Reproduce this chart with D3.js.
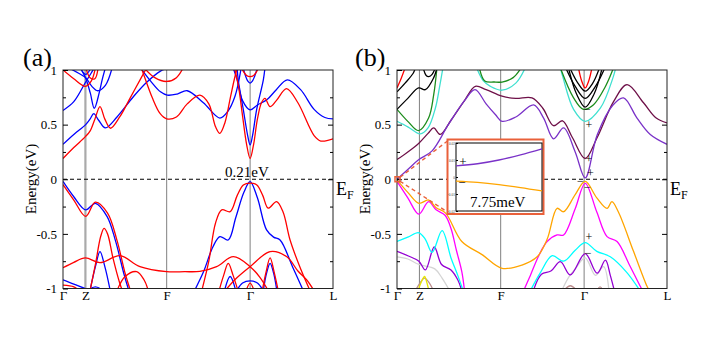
<!DOCTYPE html>
<html><head><meta charset="utf-8">
<script src="https://cdn.jsdelivr.net/npm/d3@7"></script>
<style>body{margin:0;background:#fff}svg{display:block}</style>
</head><body><svg id="c" width="709" height="355"></svg>
<script>
// ---------- axis data ----------
const kLabels = ["Γ","Z","F","Γ","L"];
const kTicks = [0, 0.083, 0.384, 0.693, 1];
const eTicks = [-1, -0.5, 0, 0.5, 1];
const eTickLabels = ["-1", "-0.5", "0", "0.5", "1"];
const eMinor = [-0.75, -0.25, 0.25, 0.75];

// ---------- panel (a): spin-resolved bands [k, E] ----------
const aRed = [
  [[0,0.19],[0.04,0.29],[0.083,0.39],[0.10,0.44],[0.118,0.55],[0.137,0.665],[0.155,0.55],[0.176,0.467],[0.21,0.57],[0.25,0.75],[0.29,0.93],[0.31,1.02]],
  [[0.29,1.02],[0.30,0.95],[0.33,0.75],[0.36,0.60],[0.384,0.553],[0.42,0.57],[0.46,0.69],[0.507,0.77],[0.54,0.69],[0.565,0.48],[0.581,0.42],[0.60,0.52],[0.62,0.75],[0.635,0.92],[0.645,1.02]],
  [[0.30,1.02],[0.34,0.93],[0.384,0.895],[0.42,0.93],[0.445,1.02]],
  [[0.635,1.02],[0.65,0.85],[0.665,0.58],[0.68,0.32],[0.693,0.19],[0.706,0.32],[0.72,0.55],[0.735,0.70],[0.748,0.74],[0.767,0.665],[0.79,0.72],[0.828,0.83],[0.87,0.70],[0.93,0.40],[0.955,0.35],[1.0,0.37]],
  [[0.66,1.02],[0.68,0.95],[0.693,0.94],[0.706,0.95],[0.725,1.02]],
  [[0,1.0],[0.04,0.92],[0.083,0.85],[0.105,0.90],[0.12,1.02]],
  [[0.085,1.02],[0.10,0.93],[0.118,0.92],[0.13,1.02]],
  [[0,-0.05],[0.04,-0.19],[0.084,-0.34],[0.12,-0.21],[0.165,-0.31],[0.20,-0.56],[0.23,-0.86],[0.25,-1.02]],
  [[0.514,-1.02],[0.54,-0.75],[0.565,-0.40],[0.588,-0.28],[0.619,-0.297],[0.645,-0.15],[0.668,-0.052],[0.693,-0.035],[0.718,-0.052],[0.74,-0.15],[0.76,-0.265],[0.791,-0.205],[0.815,-0.30],[0.841,-0.556],[0.88,-0.82],[0.915,-1.02]],
  [[0,-0.81],[0.04,-0.76],[0.083,-0.72],[0.137,-0.764],[0.211,-0.70],[0.285,-0.80],[0.384,-0.846],[0.45,-0.846],[0.507,-0.843],[0.569,-0.80],[0.631,-0.709],[0.693,-0.80],[0.73,-0.90],[0.76,-1.02]],
  [[0.60,-1.02],[0.645,-0.90],[0.693,-0.80],[0.767,-0.663],[0.829,-0.71],[0.87,-0.84],[0.902,-0.92],[0.93,-1.02]],
  [[0.10,-1.02],[0.12,-0.78],[0.14,-0.52],[0.152,-0.45],[0.165,-0.50],[0.185,-0.72],[0.21,-0.95],[0.22,-1.02]],
  [[0.20,-1.02],[0.23,-0.89],[0.273,-0.846],[0.30,-0.92],[0.316,-1.02]],
  [[0,-0.97],[0.04,-0.985],[0.06,-1.02]],
  [[0.578,-1.02],[0.595,-0.88],[0.612,-0.77],[0.63,-0.88],[0.648,-1.02]],
  [[0.738,-1.02],[0.752,-0.85],[0.767,-0.72],[0.782,-0.85],[0.797,-1.02]],
  [[0.678,-1.02],[0.693,-0.95],[0.708,-1.02]]
];
const aBlue = [
  [[0,0.32],[0.04,0.41],[0.084,0.50],[0.10,0.55],[0.114,0.60],[0.132,0.54],[0.157,0.47],[0.20,0.57],[0.262,0.76],[0.311,0.89],[0.361,0.99],[0.39,1.02]],
  [[0,0.63],[0.04,0.71],[0.084,0.89],[0.104,0.97],[0.116,1.02]],
  [[0.064,1.02],[0.084,0.925],[0.101,0.79],[0.116,0.65],[0.134,0.79],[0.145,0.91],[0.157,1.02]],
  [[0.021,1.02],[0.058,0.97],[0.084,0.93],[0.107,0.85],[0.128,0.81],[0.157,0.86],[0.182,1.02]],
  [[0.064,1.02],[0.084,0.96],[0.104,1.02]],
  [[0.287,1.02],[0.324,0.90],[0.361,0.80],[0.386,0.77],[0.423,0.78],[0.46,0.81],[0.52,0.70],[0.581,0.56],[0.61,0.62],[0.637,0.76],[0.66,1.02]],
  [[0.645,1.02],[0.649,0.91],[0.668,0.635],[0.684,0.40],[0.693,0.315],[0.702,0.40],[0.717,0.635],[0.742,0.91],[0.748,1.02]],
  [[0.63,1.02],[0.645,0.91],[0.665,0.72],[0.693,0.635],[0.72,0.68],[0.756,0.73],[0.79,0.82],[0.831,0.91],[0.88,0.82],[0.93,0.64],[0.97,0.565],[1.0,0.553]],
  [[0.667,1.02],[0.684,0.90],[0.693,0.88],[0.702,0.90],[0.72,1.02]],
  [[0,-0.02],[0.04,-0.16],[0.084,-0.28],[0.12,-0.22],[0.163,-0.34],[0.194,-0.56],[0.225,-0.86],[0.244,-1.02]],
  [[0.487,-1.02],[0.52,-0.85],[0.555,-0.62],[0.581,-0.525],[0.612,-0.556],[0.64,-0.35],[0.67,-0.12],[0.693,-0.022],[0.72,-0.17],[0.754,-0.464],[0.78,-0.53],[0.804,-0.556],[0.85,-0.80],[0.89,-1.02]],
  [[0.10,-1.02],[0.12,-0.80],[0.137,-0.663],[0.155,-0.80],[0.175,-1.02]],
  [[0,-0.92],[0.04,-0.96],[0.083,-1.0],[0.10,-1.02]],
  [[0.09,-1.02],[0.12,-0.985],[0.15,-1.02]],
  [[0.598,-1.02],[0.619,-0.89],[0.64,-1.02]],
  [[0.742,-1.02],[0.754,-0.86],[0.767,-0.77],[0.78,-0.86],[0.792,-1.02]],
  [[0.643,-1.02],[0.665,-0.95],[0.693,-0.93],[0.72,-0.95],[0.742,-1.02]]
];

// ---------- panel (b): SOC bands [k, E] ----------
const bRed = [
  [[0,0.836],[0.015,0.92],[0.03,1.02]],
  [[0.672,1.02],[0.684,0.90],[0.697,0.836],[0.71,0.90],[0.722,1.02]]
];
const bBlack = [
  [[0,0.64],[0.04,0.74],[0.08,0.836],[0.105,0.82],[0.136,0.93],[0.148,1.02]],
  [[0,0.80],[0.03,0.88],[0.06,0.97],[0.068,1.02]],
  [[0.097,1.02],[0.108,0.95],[0.118,0.94],[0.13,0.96],[0.142,1.02]],
  [[0.64,1.02],[0.67,0.88],[0.697,0.806],[0.725,0.88],[0.75,1.02]],
  [[0.625,1.02],[0.66,0.85],[0.697,0.74],[0.735,0.85],[0.77,1.02]],
  [[0.635,1.02],[0.665,0.78],[0.697,0.66],[0.73,0.78],[0.76,1.02]]
];
const bGreen = [
  [[0,0.64],[0.04,0.53],[0.08,0.445],[0.117,0.56],[0.136,0.775],[0.148,1.02]],
  [[0.305,1.02],[0.325,0.90],[0.36,0.89],[0.389,0.89],[0.43,0.93],[0.46,1.02]],
  [[0.605,1.02],[0.654,0.745],[0.69,0.64],[0.728,0.683],[0.77,0.84],[0.802,1.02]]
];
const bTurquoise = [
  [[0,0.53],[0.04,0.48],[0.086,0.415],[0.115,0.47],[0.142,0.65],[0.158,0.85],[0.17,1.02]],
  [[0.295,1.02],[0.32,0.90],[0.346,0.85],[0.389,0.815],[0.44,0.88],[0.475,1.02]],
  [[0.605,1.02],[0.615,0.93],[0.654,0.64],[0.697,0.53],[0.753,0.65],[0.80,0.93],[0.81,1.02]]
];
const bMaroon = [[0,0.18],[0.04,0.25],[0.081,0.33],[0.115,0.42],[0.136,0.47],[0.16,0.41],[0.20,0.54],[0.25,0.72],[0.29,0.85],[0.33,0.82],[0.389,0.76],[0.44,0.74],[0.50,0.745],[0.54,0.65],[0.58,0.49],[0.613,0.535],[0.65,0.38],[0.697,0.19],[0.741,0.38],[0.802,0.71],[0.852,0.866],[0.913,0.70],[0.96,0.56],[1.0,0.515]];
const bIndigo = [[0,0.0],[0.04,0.09],[0.081,0.18],[0.13,0.26],[0.19,0.50],[0.25,0.72],[0.289,0.82],[0.33,0.69],[0.365,0.59],[0.389,0.53],[0.44,0.57],[0.506,0.68],[0.543,0.56],[0.58,0.37],[0.617,0.47],[0.66,0.25],[0.697,0.012],[0.742,0.41],[0.80,0.68],[0.839,0.745],[0.889,0.56],[0.938,0.41],[1.0,0.32]];
const bOrange = [[0,-0.005],[0.04,-0.12],[0.081,-0.22],[0.117,-0.19],[0.145,-0.26],[0.18,-0.31],[0.24,-0.57],[0.315,-0.69],[0.389,-0.815],[0.463,-0.785],[0.519,-0.71],[0.556,-0.55],[0.593,-0.266],[0.617,-0.297],[0.66,-0.14],[0.697,-0.02],[0.74,-0.17],[0.778,-0.266],[0.796,-0.205],[0.82,-0.30],[0.876,-0.66],[0.926,-0.98],[0.935,-1.02]];
const bMagenta = [
  [[0,-0.02],[0.04,-0.17],[0.081,-0.32],[0.117,-0.205],[0.145,-0.28],[0.178,-0.33],[0.20,-0.45],[0.22,-0.65],[0.24,-0.846],[0.25,-1.02]],
  [[0.469,-1.02],[0.494,-0.88],[0.525,-0.70],[0.556,-0.57],[0.593,-0.51],[0.617,-0.51],[0.66,-0.27],[0.697,-0.037],[0.74,-0.30],[0.778,-0.525],[0.815,-0.57],[0.86,-0.78],[0.901,-0.98],[0.91,-1.02]]
];
const bCyan = [
  [[0,-0.57],[0.04,-0.53],[0.081,-0.49],[0.105,-0.55],[0.13,-0.67],[0.167,-0.47],[0.20,-0.72],[0.225,-0.88],[0.245,-1.02]],
  [[0.494,-1.02],[0.53,-0.86],[0.575,-0.70],[0.617,-0.75],[0.66,-0.65],[0.697,-0.58],[0.74,-0.66],[0.79,-0.71],[0.85,-0.85],[0.90,-1.02]]
];
const bViolet = [
  [[0,-0.66],[0.04,-0.70],[0.081,-0.75],[0.105,-0.83],[0.138,-0.62],[0.165,-0.78],[0.20,-0.83],[0.225,-0.92],[0.24,-1.02]],
  [[0.505,-1.02],[0.535,-0.87],[0.57,-0.84],[0.605,-0.754],[0.642,-0.876],[0.697,-0.68],[0.741,-0.86],[0.772,-0.74],[0.79,-0.88],[0.805,-1.02]]
];
const bGrey = [
  [[0,-0.71],[0.04,-0.73],[0.081,-0.78],[0.14,-0.82],[0.167,-0.905],[0.195,-1.02]],
  [[0.61,-1.02],[0.635,-0.90],[0.66,-0.82],[0.697,-0.72],[0.735,-0.88],[0.765,-0.80],[0.785,-1.02]]
];
const bBrown = [
  [[0.068,-1.02],[0.085,-0.95],[0.102,-0.905],[0.12,-0.95],[0.135,-1.02]],
  [[0.617,-1.02],[0.642,-0.975],[0.667,-1.02]],
  [[0.74,-1.02],[0.752,-0.985],[0.764,-1.02]]
];
const bYellow = [[[0.078,-1.02],[0.09,-0.94],[0.102,-0.89],[0.11,-0.94],[0.118,-1.02]]];

// parity marks at Γ in (b)
const markK = [0.705, 0.711, 0.711, 0.716, 0.679, 0.705, 0.711, 0.708];
const markE = [0.645, 0.50, 0.186, 0.058, -0.016, -0.068, -0.532, -0.672];
const markSym = ["−", "+", "+", "+", "−", "−", "+", "−"];

// inset (zoom near Γ)
const insetK = [0, 0.25, 0.5, 0.75, 1];
const insetUpper = [0.0065, 0.0078, 0.0100, 0.0130, 0.0165];
const insetLower = [-0.0024, -0.0032, -0.0045, -0.0062, -0.0082];
const insetTicks = [-0.02, -0.01, 0, 0.01, 0.02];
const insetTickLabels = ["-0.02", "-0.01", "0", "0.01", "0.02"];

// ---------- drawing ----------
const FONT = "'Liberation Serif','Times New Roman',serif";
const svg = d3.select("#c");
const yTop = 70, yBot = 288.5;
const y = d3.scaleLinear().domain([-1, 1]).range([yBot, yTop]);

function drawPanel(id, x0, x1, sets, label, labelX, ylabX, zThick) {
  const x = d3.scaleLinear().domain([0, 1]).range([x0, x1]);
  const g = svg.append("g");
  svg.append("clipPath").attr("id", "clip" + id).append("rect")
    .attr("x", x0).attr("y", yTop).attr("width", x1 - x0).attr("height", yBot - yTop);

  g.selectAll(".kl").data(kTicks.slice(1, 4)).join("line")
    .attr("x1", d => x(d)).attr("x2", d => x(d)).attr("y1", yTop).attr("y2", yBot)
    .attr("stroke", (d, i) => (zThick && i === 0) ? "#aaa" : "#808080")
    .attr("stroke-width", (d, i) => (zThick && i === 0) ? 2.2 : 1);

  const line = d3.line().x(d => x(d[0])).y(d => y(d[1])).curve(d3.curveCatmullRom.alpha(0.5));
  const bg = g.append("g").attr("clip-path", `url(#clip${id})`);
  sets.forEach(s => s.data.forEach(b => {
    bg.append("path").attr("d", line(b)).attr("fill", "none")
      .attr("stroke", s.color).attr("stroke-width", 1.3);
  }));

  g.append("line").attr("x1", x0).attr("x2", x1).attr("y1", y(0)).attr("y2", y(0))
    .attr("stroke", "#000").attr("stroke-width", 1).attr("stroke-dasharray", "4,3");

  g.append("rect").attr("x", x0).attr("y", yTop).attr("width", x1 - x0).attr("height", yBot - yTop)
    .attr("fill", "none").attr("stroke", "#222").attr("stroke-width", 1);

  const style = a => { a.select(".domain").remove(); a.attr("font-family", FONT).attr("font-size", 13); a.selectAll("text").attr("fill", "#000"); };
  g.append("g").attr("transform", `translate(${x0},0)`)
    .call(d3.axisLeft(y).tickValues(eTicks).tickFormat((d, i) => eTickLabels[i]).tickSize(-5).tickPadding(6)).call(style);
  g.append("g").attr("transform", `translate(${x0},0)`)
    .call(d3.axisLeft(y).tickValues(eMinor).tickFormat("").tickSize(-3)).call(style);
  g.append("g").attr("transform", `translate(${x1},0)`)
    .call(d3.axisRight(y).tickValues(eTicks.slice(1, 4)).tickFormat("").tickSize(-5)).call(style);
  g.append("g").attr("transform", `translate(${x1},0)`)
    .call(d3.axisRight(y).tickValues(eMinor).tickFormat("").tickSize(-3)).call(style);
  g.append("g").attr("transform", `translate(0,${yBot})`)
    .call(d3.axisBottom(x).tickValues(kTicks).tickFormat((d, i) => kLabels[i]).tickSize(0).tickPadding(2.5)).call(style);

  g.append("text").attr("x", labelX).attr("y", 66).attr("font-family", FONT).attr("font-size", 26).text(label);
  g.append("text").attr("transform", `translate(${ylabX},179) rotate(-90)`).attr("text-anchor", "middle")
    .attr("font-family", FONT).attr("font-size", 15).text("Energy(eV)");
  const ef = g.append("text").attr("x", x1 + 3).attr("y", 195).attr("font-family", FONT).attr("font-size", 18);
  ef.append("tspan").text("E");
  ef.append("tspan").attr("font-size", 12).attr("dy", 4).text("F");
  return x;
}

const xa = drawPanel("a", 63, 333, [
  { color: "#0000ff", data: aBlue },
  { color: "#ff0000", data: aRed }
], "(a)", 23, 36, true);
svg.append("text").attr("x", 225).attr("y", 176.5).attr("font-family", FONT).attr("font-size", 15).text("0.21eV");

const xb = drawPanel("b", 397, 667, [
  { color: "#d4d4d4", data: bGrey },
  { color: "#bc8f8f", data: bBrown },
  { color: "#e6e600", data: bYellow },
  { color: "#9400d3", data: bViolet },
  { color: "#00ffff", data: bCyan },
  { color: "#ff00ff", data: bMagenta },
  { color: "#ffa500", data: [bOrange] },
  { color: "#40e0d0", data: bTurquoise },
  { color: "#1c8c1c", data: bGreen },
  { color: "#000000", data: bBlack },
  { color: "#ff0000", data: bRed },
  { color: "#6e1048", data: [bMaroon] },
  { color: "#7a32c8", data: [bIndigo] }
], "(b)", 355, 370, false);

svg.append("g").selectAll("text").data(markSym).join("text")
  .attr("x", (d, i) => xb(markK[i])).attr("y", (d, i) => y(markE[i]))
  .attr("dominant-baseline", "central").attr("text-anchor", "middle")
  .attr("font-family", FONT).attr("font-size", 12).text(d => d);

const OR = "#e9603a";
svg.append("rect").attr("x", xb(0) - 2).attr("y", y(0) - 2.5).attr("width", 5).attr("height", 5)
  .attr("fill", "none").attr("stroke", OR).attr("stroke-width", 1.5);
svg.append("line").attr("x1", xb(0) + 3).attr("y1", y(0) - 2).attr("x2", 447.5).attr("y2", 141)
  .attr("stroke", OR).attr("stroke-width", 1.4).attr("stroke-dasharray", "4,3");
svg.append("line").attr("x1", xb(0) + 3).attr("y1", y(0) + 2).attr("x2", 447.5).attr("y2", 212)
  .attr("stroke", OR).attr("stroke-width", 1.4).attr("stroke-dasharray", "4,3");

svg.append("rect").attr("x", 447.5).attr("y", 139.5).attr("width", 96).attr("height", 74.5)
  .attr("fill", "#fff").attr("stroke", OR).attr("stroke-width", 2);
const xi = d3.scaleLinear().domain([0, 1]).range([456, 542]);
const yi = d3.scaleLinear().domain([-0.02, 0.02]).range([211, 143]);
svg.append("rect").attr("x", 456).attr("y", 143).attr("width", 86).attr("height", 68)
  .attr("fill", "none").attr("stroke", "#000").attr("stroke-width", 1);
const ig = svg.append("g").attr("transform", "translate(456,0)")
  .call(d3.axisLeft(yi).tickValues(insetTicks).tickFormat((d, i) => insetTickLabels[i]).tickSize(-2).tickPadding(1));
ig.select(".domain").remove();
ig.attr("font-family", FONT).attr("font-size", 3.5);
ig.selectAll("text").attr("fill", "#444");
const il = d3.line().x((d, i) => xi(insetK[i])).y(d => yi(d)).curve(d3.curveCatmullRom);
svg.append("path").attr("d", il(insetUpper)).attr("fill", "none").attr("stroke", "#7a32c8").attr("stroke-width", 1.3);
svg.append("path").attr("d", il(insetLower)).attr("fill", "none").attr("stroke", "#ffa500").attr("stroke-width", 1.3);
svg.append("text").attr("x", xi(0.08)).attr("y", yi(0.009)).attr("text-anchor", "middle").attr("dominant-baseline", "central")
  .attr("font-family", FONT).attr("font-size", 13).text("+");
svg.append("text").attr("x", xi(0.07)).attr("y", yi(-0.0032)).attr("text-anchor", "middle").attr("dominant-baseline", "central")
  .attr("font-family", FONT).attr("font-size", 13).text("−");
svg.append("text").attr("x", 470).attr("y", 207).attr("font-family", FONT).attr("font-size", 15).text("7.75meV");
</script></body></html>
